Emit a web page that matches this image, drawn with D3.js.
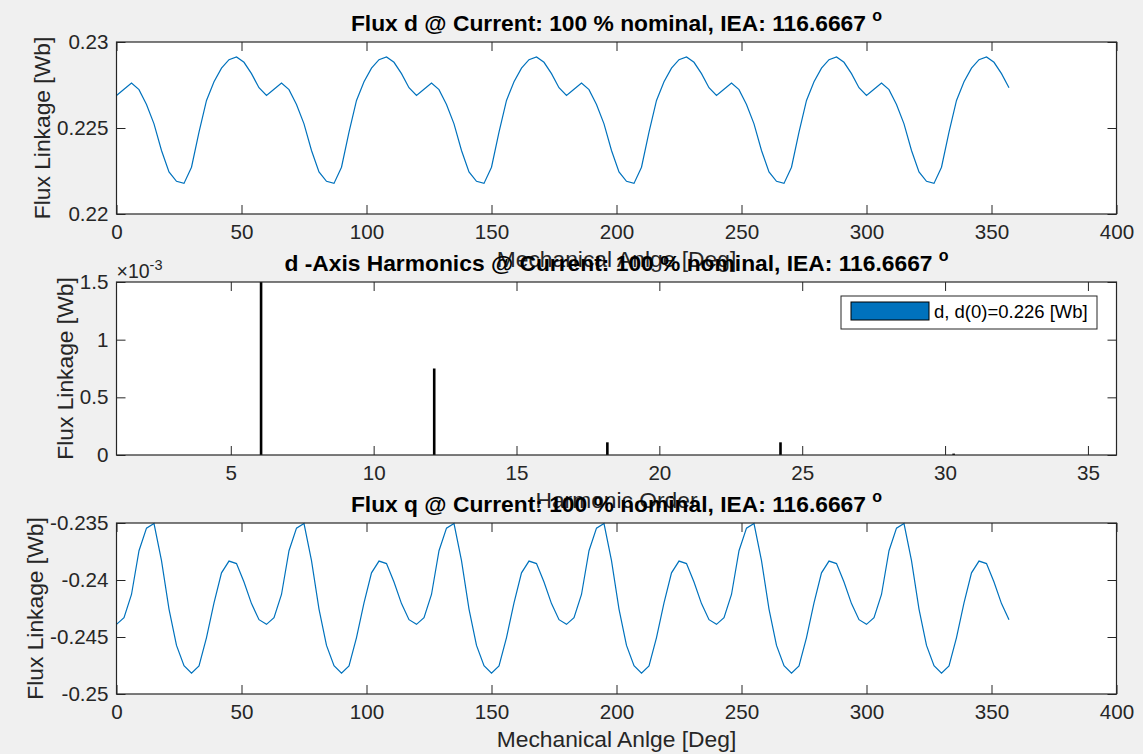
<!DOCTYPE html>
<html>
<head>
<meta charset="utf-8">
<script src="https://cdn.jsdelivr.net/npm/d3@7"></script>
<style>
  html, body { margin: 0; padding: 0; background: #f0f0f0; }
  svg { display: block; font-family: "Liberation Sans", Arial, Helvetica, sans-serif; }
</style>
</head>
<body>
<svg id="fig" width="1143" height="754"></svg>
<script>
// Rotor position sampling (degrees between samples)
const sampleStepDeg = 3;

// d-axis flux linkage [Wb], one sample every 3 deg from 0 to 357 deg
const fluxD = [
  0.22689, 0.22725, 0.22761, 0.22723, 0.22637, 0.22524, 0.22369, 0.22245, 0.22190, 0.22178,
  0.22272, 0.22476, 0.22660, 0.22769, 0.22848, 0.22897, 0.22913, 0.22882, 0.22816, 0.22734,
  0.22689, 0.22725, 0.22761, 0.22723, 0.22637, 0.22524, 0.22369, 0.22245, 0.22190, 0.22178,
  0.22272, 0.22476, 0.22660, 0.22769, 0.22848, 0.22897, 0.22913, 0.22882, 0.22816, 0.22734,
  0.22689, 0.22725, 0.22761, 0.22723, 0.22637, 0.22524, 0.22369, 0.22245, 0.22190, 0.22178,
  0.22272, 0.22476, 0.22660, 0.22769, 0.22848, 0.22897, 0.22913, 0.22882, 0.22816, 0.22734,
  0.22689, 0.22725, 0.22761, 0.22723, 0.22637, 0.22524, 0.22369, 0.22245, 0.22190, 0.22178,
  0.22272, 0.22476, 0.22660, 0.22769, 0.22848, 0.22897, 0.22913, 0.22882, 0.22816, 0.22734,
  0.22689, 0.22725, 0.22761, 0.22723, 0.22637, 0.22524, 0.22369, 0.22245, 0.22190, 0.22178,
  0.22272, 0.22476, 0.22660, 0.22769, 0.22848, 0.22897, 0.22913, 0.22882, 0.22816, 0.22734,
  0.22689, 0.22725, 0.22761, 0.22723, 0.22637, 0.22524, 0.22369, 0.22245, 0.22190, 0.22178,
  0.22272, 0.22476, 0.22660, 0.22769, 0.22848, 0.22897, 0.22913, 0.22882, 0.22816, 0.22734
];

// q-axis flux linkage [Wb], same sampling
const fluxQ = [
  -0.24389, -0.24330, -0.24127, -0.23743, -0.23545, -0.23505, -0.23830, -0.24255, -0.24574, -0.24752,
  -0.24818, -0.24753, -0.24505, -0.24200, -0.23937, -0.23834, -0.23856, -0.24018, -0.24207, -0.24348,
  -0.24389, -0.24330, -0.24127, -0.23743, -0.23545, -0.23505, -0.23830, -0.24255, -0.24574, -0.24752,
  -0.24818, -0.24753, -0.24505, -0.24200, -0.23937, -0.23834, -0.23856, -0.24018, -0.24207, -0.24348,
  -0.24389, -0.24330, -0.24127, -0.23743, -0.23545, -0.23505, -0.23830, -0.24255, -0.24574, -0.24752,
  -0.24818, -0.24753, -0.24505, -0.24200, -0.23937, -0.23834, -0.23856, -0.24018, -0.24207, -0.24348,
  -0.24389, -0.24330, -0.24127, -0.23743, -0.23545, -0.23505, -0.23830, -0.24255, -0.24574, -0.24752,
  -0.24818, -0.24753, -0.24505, -0.24200, -0.23937, -0.23834, -0.23856, -0.24018, -0.24207, -0.24348,
  -0.24389, -0.24330, -0.24127, -0.23743, -0.23545, -0.23505, -0.23830, -0.24255, -0.24574, -0.24752,
  -0.24818, -0.24753, -0.24505, -0.24200, -0.23937, -0.23834, -0.23856, -0.24018, -0.24207, -0.24348,
  -0.24389, -0.24330, -0.24127, -0.23743, -0.23545, -0.23505, -0.23830, -0.24255, -0.24574, -0.24752,
  -0.24818, -0.24753, -0.24505, -0.24200, -0.23937, -0.23834, -0.23856, -0.24018, -0.24207, -0.24348
];

// d-axis harmonic spectrum
const harmonicOrder = [6.06, 12.12, 18.18, 24.24, 30.30];
const harmonicAmp   = [1.5e-3, 0.75e-3, 0.11e-3, 0.11e-3, 0.012e-3];

// Axis ticks
const angleTicks = [0, 50, 100, 150, 200, 250, 300, 350, 400];
const fluxDTicks = [0.22, 0.225, 0.23];
const fluxQTicks = [-0.25, -0.245, -0.24, -0.235];
const harmonicTicks = [5, 10, 15, 20, 25, 30, 35];
const harmonicAmpTicks = [0, 0.5e-3, 1e-3, 1.5e-3];

// Texts
const titleD = "Flux d @ Current: 100 % nominal, IEA: 116.6667 ";
const titleH = "d -Axis Harmonics @ Current: 100 % nominal, IEA: 116.6667 ";
const titleQ = "Flux q @ Current: 100 % nominal, IEA: 116.6667 ";
const angleLabel = "Mechanical Anlge [Deg]";
const harmonicLabel = "Harmonic Order";
const fluxLabel = "Flux Linkage [Wb]";
const legendLabel = "d, d(0)=0.226 [Wb]";

const svg = d3.select("#fig");
const INK = "#262626";
const BLUE = "#0072BD";
const L = 116.5, R = 1116.5;
const TICK = 9;
const TICK_FONT = 20.6, LABEL_FONT = 22.8, TITLE_FONT = 22.8;

svg.append("rect").attr("width", 1143).attr("height", 754).attr("fill", "#f0f0f0");

let clipId = 0;
function makeAxes(top, bottom, xDomain, yDomain, xTicks, yTicks, yFmt, xLabel, title) {
  const x = d3.scaleLinear().domain(xDomain).range([L, R]);
  const y = d3.scaleLinear().domain(yDomain).range([bottom, top]);
  const g = svg.append("g");
  g.append("rect").attr("x", L).attr("y", top).attr("width", R - L).attr("height", bottom - top)
    .attr("fill", "#fff");

  const id = "clip" + (clipId++);
  svg.append("clipPath").attr("id", id).append("rect")
    .attr("x", L).attr("y", top - 1).attr("width", R - L).attr("height", bottom - top + 2);
  const plot = g.append("g").attr("clip-path", `url(#${id})`);

  const styleAxis = sel => {
    sel.select(".domain").remove();
    sel.selectAll("line").attr("stroke", INK).attr("stroke-width", 1);
    sel.selectAll("text").attr("fill", INK).attr("font-size", TICK_FONT)
      .attr("font-family", '"Liberation Sans", Arial, sans-serif');
  };

  g.append("g").attr("transform", `translate(0,${bottom})`)
    .call(d3.axisBottom(x).tickValues(xTicks).tickSizeInner(-TICK).tickSizeOuter(0).tickPadding(10.5))
    .call(styleAxis);
  g.append("g").attr("transform", `translate(0,${top})`)
    .call(d3.axisTop(x).tickValues(xTicks).tickSizeInner(-TICK).tickSizeOuter(0).tickFormat(""))
    .call(styleAxis);
  const yAx = g.append("g").attr("transform", `translate(${L},0)`)
    .call(d3.axisLeft(y).tickValues(yTicks).tickSizeInner(-TICK).tickSizeOuter(0).tickPadding(8).tickFormat(yFmt))
    .call(styleAxis);
  g.append("g").attr("transform", `translate(${R},0)`)
    .call(d3.axisRight(y).tickValues(yTicks).tickSizeInner(-TICK).tickSizeOuter(0).tickFormat(""))
    .call(styleAxis);

  g.append("rect").attr("x", L).attr("y", top).attr("width", R - L).attr("height", bottom - top)
    .attr("fill", "none").attr("stroke", INK).attr("stroke-width", 1.2);

  // y label placed just left of the widest tick label
  const bb = yAx.node().getBBox();
  const ylx = L + bb.x - 7;
  g.append("text")
    .attr("transform", `translate(${ylx},${(top + bottom) / 2}) rotate(-90)`)
    .attr("text-anchor", "middle").attr("font-size", LABEL_FONT).attr("fill", INK)
    .text(fluxLabel);

  // x label
  g.append("text").attr("x", (L + R) / 2).attr("y", bottom + 53)
    .attr("text-anchor", "middle").attr("font-size", LABEL_FONT).attr("fill", INK)
    .text(xLabel);

  return { x, y, plot, g, top, bottom, title };
}

function drawTitle(ax) {
  const t = svg.append("text").attr("x", (L + R) / 2).attr("y", ax.top - 11)
    .attr("text-anchor", "middle").attr("font-size", TITLE_FONT).attr("font-weight", "bold").attr("fill", "#000");
  t.append("tspan").text(ax.title);
  t.append("tspan").attr("dy", -10).attr("font-size", 16).text("o");
}

const fmtPlain = d => String(d);
const fmtMilli = d => String(+(d * 1e3).toFixed(3));

// ---- Flux d ----
const axD = makeAxes(42, 214, [0, 400], [0.22, 0.23], angleTicks, fluxDTicks, fmtPlain, angleLabel, titleD);
axD.plot.append("path").datum(fluxD)
  .attr("fill", "none").attr("stroke", BLUE).attr("stroke-width", 1.2)
  .attr("d", d3.line().x((d, i) => axD.x(i * sampleStepDeg)).y(d => axD.y(d)));

// ---- Harmonics ----
const axH = makeAxes(282, 455, [1, 36], [0, 1.5e-3], harmonicTicks, harmonicAmpTicks, fmtMilli, harmonicLabel, titleH);
axH.plot.selectAll("rect.bar").data(harmonicOrder).join("rect").attr("class", "bar")
  .attr("x", d => axH.x(d) - 1.3).attr("width", 2.6)
  .attr("y", (d, i) => axH.y(harmonicAmp[i]))
  .attr("height", (d, i) => axH.y(0) - axH.y(harmonicAmp[i]))
  .attr("fill", "#000");

// exponent marker
const ex = svg.append("text").attr("x", L).attr("y", 278).attr("font-size", 19.5).attr("fill", INK);
ex.append("tspan").text("\u00d710");
ex.append("tspan").attr("dy", -8).attr("font-size", 14.5).text("-3");

// legend
const lg = svg.append("g");
lg.append("rect").attr("x", 841).attr("y", 296).attr("width", 256).attr("height", 33)
  .attr("fill", "#fff").attr("stroke", INK).attr("stroke-width", 1);
lg.append("rect").attr("x", 851).attr("y", 302).attr("width", 78).attr("height", 18)
  .attr("fill", BLUE).attr("stroke", "#000").attr("stroke-width", 1);
lg.append("text").attr("x", 934).attr("y", 318).attr("font-size", 18.5).attr("fill", "#000")
  .text(legendLabel);

// ---- Flux q ----
const axQ = makeAxes(523, 694, [0, 400], [-0.25, -0.235], angleTicks, fluxQTicks, fmtPlain, angleLabel, titleQ);
axQ.plot.append("path").datum(fluxQ)
  .attr("fill", "none").attr("stroke", BLUE).attr("stroke-width", 1.2)
  .attr("d", d3.line().x((d, i) => axQ.x(i * sampleStepDeg)).y(d => axQ.y(d)));

// titles drawn last so they sit above neighbouring axis labels
[axD, axH, axQ].forEach(drawTitle);
</script>
</body>
</html>
